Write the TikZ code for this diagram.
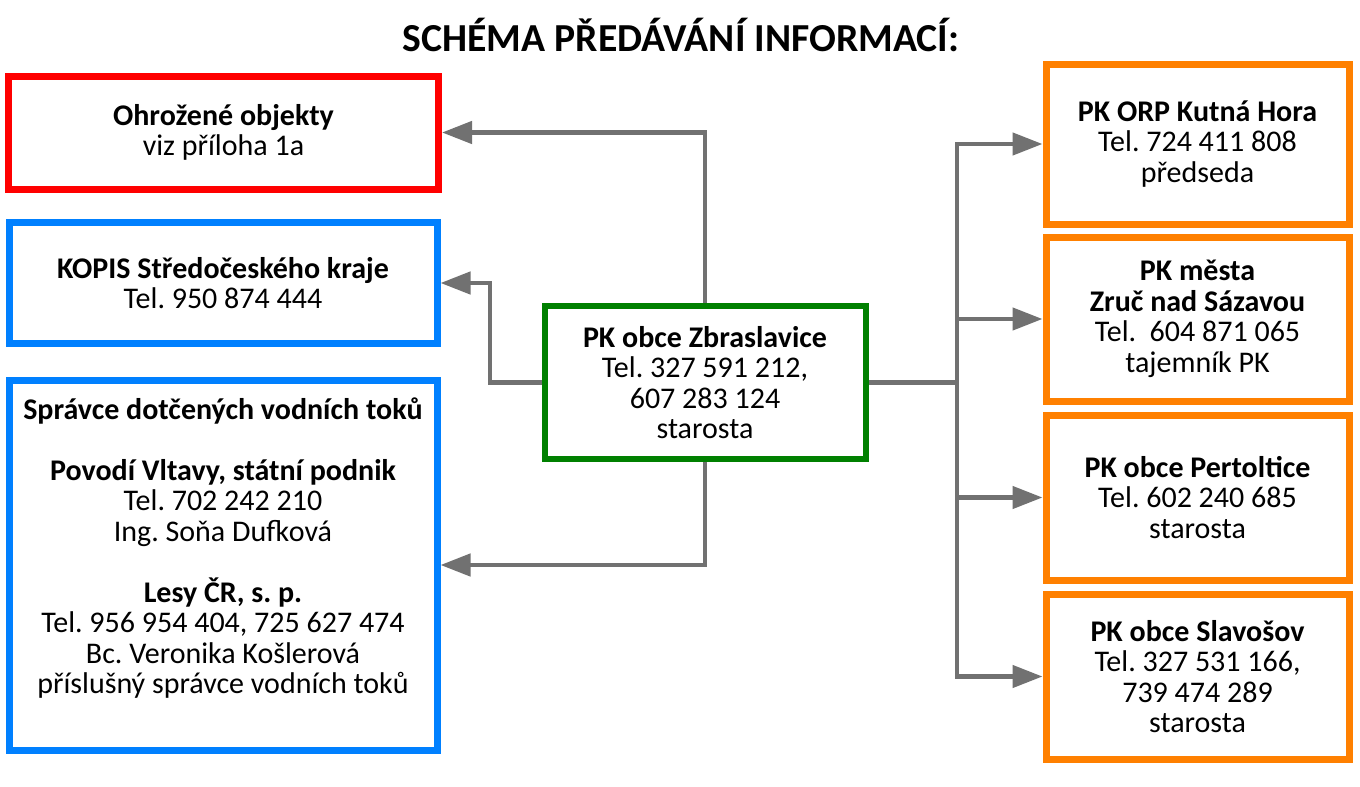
\documentclass[tikz,border=0pt]{standalone}
\usepackage{fontspec}
\setmainfont{Carlito}
\usetikzlibrary{arrows.meta}
\frenchspacing
\definecolor{cred}{RGB}{255,0,0}
\definecolor{cblue}{RGB}{0,128,255}
\definecolor{cgreen}{RGB}{0,128,0}
\definecolor{corange}{RGB}{255,128,0}
\definecolor{cgray}{RGB}{113,113,113}
\tikzset{
  box/.style={draw=#1, line width=7pt, inner sep=0pt, align=center, fill=white,
    font=\fontsize{30}{30.5}\selectfont\frenchspacing},
  conn/.style={draw=cgray, line width=4.5pt, line join=miter},
  arr/.style={conn, -{Triangle[length=30pt,width=22pt]}},
}
\begin{document}
\begin{tikzpicture}[x=1pt,y=-1pt]
\useasboundingbox (0,0) rectangle (1360,787);
\fill[white] (0,0) rectangle (1360,787);
\node[font=\fontsize{39.7}{42}\selectfont\bfseries] (title) at (681,35) {SCHÉMA PŘEDÁVÁNÍ INFORMACÍ:};
% left boxes
\node[box=cred, minimum width=430pt, minimum height=113pt] (red) at (223.5,132.5)
  {\textbf{Ohrožené objekty}\\viz příloha 1a};
\node[box=cblue, minimum width=428pt, minimum height=121pt] (kopis) at (223,283)
  {\textbf{KOPIS Středočeského kraje}\\Tel. 950 874 444};
\node[box=cblue, minimum width=428pt, minimum height=370pt] (spr) at (223,565) {};
\node[align=center, font=\fontsize{30}{30.5}\selectfont\frenchspacing, inner sep=0pt] (sprtext) at (223,548)
  {\textbf{Správce dotčených vodních toků}\\[30.5pt]
   \textbf{Povodí Vltavy, státní podnik}\\Tel. 702 242 210\\Ing. Soňa Dufková\\[30.5pt]
   \textbf{Lesy ČR, s. p.}\\Tel. 956 954 404, 725 627 474\\Bc. Veronika Košlerová\\příslušný správce vodních toků};
% centre
\node[box=cgreen, line width=6pt, minimum width=321pt, minimum height=153pt] (green) at (705,382.5)
  {\textbf{PK obce Zbraslavice}\\Tel. 327 591 212,\\607 283 124\\starosta};
% right boxes
\node[box=corange, minimum width=303pt, minimum height=160pt] (o1) at (1197.5,144)
  {\textbf{PK ORP Kutná Hora}\\Tel. 724 411 808\\předseda};
\node[box=corange, minimum width=303pt, minimum height=164pt] (o2) at (1197.5,319)
  {\textbf{PK města}\\\textbf{Zruč nad Sázavou}\\Tel.\ \ 604 871 065\\tajemník PK};
\node[box=corange, minimum width=303pt, minimum height=165pt] (o3) at (1197.5,497.5)
  {\textbf{PK obce Pertoltice}\\Tel. 602 240 685\\starosta};
\node[box=corange, minimum width=303pt, minimum height=165pt] (o4) at (1197.5,676.5)
  {\textbf{PK obce Slavošov}\\Tel. 327 531 166,\\739 474 289\\starosta};
% connectors
\coordinate (kb) at (490,382.5);
\coordinate (bus) at (957,382.5);
\draw[arr] (green.north) |- (red.east);
\draw[arr] (green.west) -- (kb) |- (kopis.east);
\draw[arr] (green.south) |- (spr.east);
\draw[conn] (green.east) -- (bus);
\draw[arr] (bus) |- (o1.west);
\draw[arr] (bus) |- (o2.west);
\draw[arr] (bus) |- (o3.west);
\draw[arr] (bus) |- (o4.west);
\end{tikzpicture}
\end{document}
